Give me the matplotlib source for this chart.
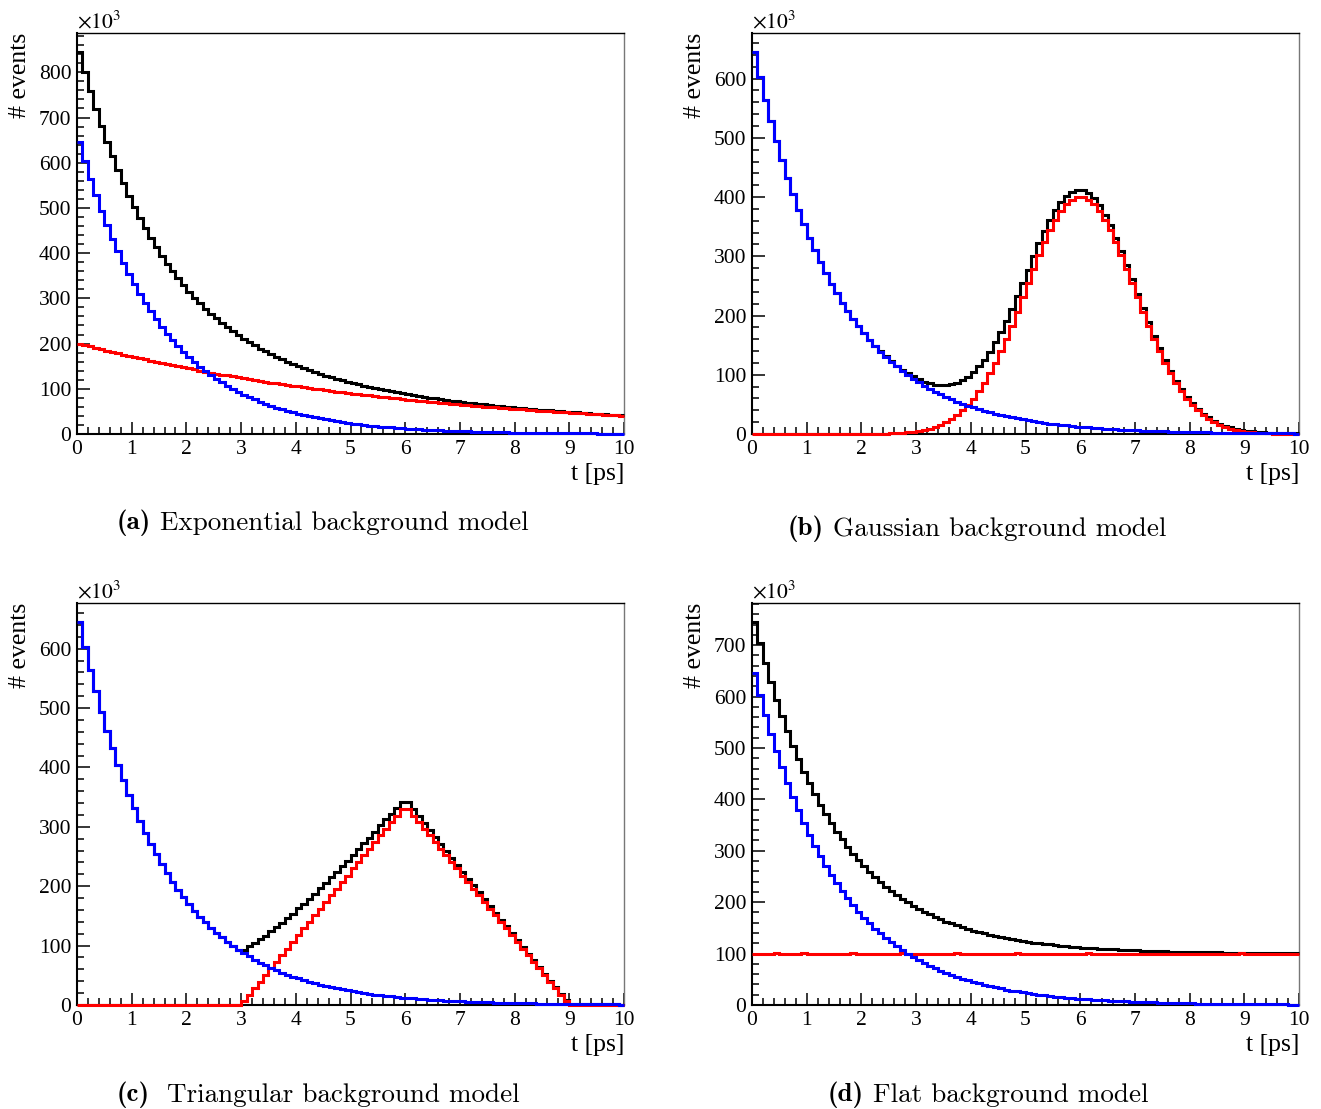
import numpy as np
import matplotlib
matplotlib.use("Agg")
import matplotlib.pyplot as plt
from matplotlib.ticker import MultipleLocator, FixedLocator

plt.rcParams["font.family"] = ["Liberation Serif", "DejaVu Serif"]
plt.rcParams["mathtext.fontset"] = "stix"

# Histogram binning: 100 bins over t in [0, 10] ps
t_min, t_max, n_bins = 0.0, 10.0, 100

# Signal component (blue), identical in all four models, in units of 1e3 events
signal = [
    645.0, 603.4, 564.5, 528.1, 494.0, 462.2, 432.4, 404.5, 378.4, 354.0,
    331.2, 309.8, 289.8, 271.1, 253.6, 237.3, 222.0, 207.6, 194.3, 181.7,
    170.0, 159.1, 148.8, 139.2, 130.2, 121.8, 114.0, 106.6, 99.7, 93.3,
    87.3, 81.7, 76.4, 71.5, 66.9, 62.5, 58.5, 54.7, 51.2, 47.9,
    44.8, 41.9, 39.2, 36.7, 34.3, 32.1, 30.0, 28.1, 26.3, 24.6,
    23.0, 21.5, 20.1, 18.8, 17.6, 16.5, 15.4, 14.4, 13.5, 12.6,
    11.8, 11.0, 10.3, 9.7, 9.0, 8.5, 7.9, 7.4, 6.9, 6.5,
    6.1, 5.7, 5.3, 5.0, 4.6, 4.3, 4.1, 3.8, 3.6, 3.3,
    3.1, 2.9, 2.7, 2.6, 2.4, 2.2, 2.1, 1.9, 1.8, 1.7,
    1.6, 1.5, 1.4, 1.3, 1.2, 1.1, 1.0, 1.0, 0.9, 0.8,
]

# Background components (red), in units of 1e3 events
bkg_exponential = [
    200.0, 196.8, 193.7, 190.6, 187.5, 184.5, 181.6, 178.7, 175.8, 173.0,
    170.3, 167.6, 164.9, 162.2, 159.7, 157.1, 154.6, 152.1, 149.7, 147.3,
    145.0, 142.7, 140.4, 138.1, 135.9, 133.7, 131.6, 129.5, 127.4, 125.4,
    123.4, 121.4, 119.5, 117.6, 115.7, 113.9, 112.0, 110.2, 108.5, 106.8,
    105.1, 103.4, 101.7, 100.1, 98.5, 96.9, 95.4, 93.8, 92.3, 90.9,
    89.4, 88.0, 86.6, 85.2, 83.8, 82.5, 81.2, 79.9, 78.6, 77.4,
    76.1, 74.9, 73.7, 72.5, 71.4, 70.3, 69.1, 68.0, 66.9, 65.9,
    64.8, 63.8, 62.8, 61.8, 60.8, 59.8, 58.8, 57.9, 57.0, 56.1,
    55.2, 54.3, 53.4, 52.6, 51.7, 50.9, 50.1, 49.3, 48.5, 47.7,
    47.0, 46.2, 45.5, 44.8, 44.0, 43.4, 42.7, 42.0, 41.3, 40.7,
]

bkg_gaussian = [
    0.0, 0.0, 0.0, 0.0, 0.0, 0.0, 0.0, 0.0, 0.0, 0.0,
    0.0, 0.0, 0.0, 0.0, 0.0, 0.0, 0.0, 0.0, 0.0, 0.0,
    0.2, 0.2, 0.3, 0.5, 0.7, 1.0, 1.5, 2.0, 2.8, 3.8,
    5.2, 6.9, 9.1, 11.9, 15.5, 19.9, 25.3, 31.8, 39.7, 48.9,
    59.8, 72.3, 86.5, 102.5, 120.3, 139.8, 160.8, 183.1, 206.5, 230.5,
    254.7, 278.7, 301.9, 323.8, 343.9, 361.5, 376.2, 387.7, 395.5, 399.5,
    399.5, 395.5, 387.7, 376.2, 361.5, 343.9, 323.8, 301.9, 278.7, 254.7,
    230.5, 206.5, 183.1, 160.8, 139.8, 120.3, 102.5, 86.5, 72.3, 59.8,
    48.9, 39.7, 31.8, 25.3, 19.9, 15.5, 11.9, 9.1, 6.9, 5.2,
    3.8, 2.8, 2.0, 1.5, 1.0, 0.7, 0.5, 0.3, 0.2, 0.2,
]

bkg_triangular = [
    0, 0, 0, 0, 0, 0, 0, 0, 0, 0,
    0, 0, 0, 0, 0, 0, 0, 0, 0, 0,
    0, 0, 0, 0, 0, 0, 0, 0, 0, 0,
    6, 17, 28, 39, 50, 62, 73, 84, 95, 106,
    118, 129, 140, 151, 162, 174, 185, 196, 207, 218,
    230, 241, 252, 263, 274, 286, 297, 308, 319, 330,
    330, 319, 308, 297, 286, 274, 263, 252, 241, 230,
    218, 207, 196, 185, 174, 162, 151, 140, 129, 118,
    106, 95, 84, 73, 62, 50, 39, 28, 17, 6,
    0, 0, 0, 0, 0, 0, 0, 0, 0, 0,
]

bkg_flat = [
    100.1, 99.9, 100.0, 99.9, 100.2, 100.0, 100.1, 99.8, 100.0, 100.2,
    99.9, 100.1, 100.0, 100.1, 99.9, 100.1, 100.0, 99.9, 100.2, 100.0,
    100.1, 99.8, 100.1, 100.0, 99.9, 100.1, 100.0, 100.2, 99.9, 100.1,
    100.0, 99.9, 100.1, 100.0, 100.1, 99.9, 100.1, 100.2, 99.9, 100.0,
    100.0, 100.1, 99.9, 100.1, 100.0, 99.9, 100.1, 100.0, 100.2, 99.9,
    100.1, 100.0, 100.1, 99.9, 100.1, 100.0, 99.9, 100.1, 100.0, 100.1,
    99.9, 100.2, 100.0, 100.0, 100.1, 99.9, 100.1, 100.0, 100.1, 99.9,
    100.0, 100.1, 99.9, 100.1, 100.0, 100.1, 99.9, 100.0, 100.1, 100.0,
    100.1, 99.9, 100.1, 100.0, 100.0, 100.1, 99.9, 100.1, 100.0, 100.2,
    99.9, 100.0, 100.1, 100.0, 100.1, 99.9, 100.1, 100.0, 100.0, 100.1,
]

backgrounds = [bkg_exponential, bkg_gaussian, bkg_triangular, bkg_flat]
y_max = [887, 677, 677, 782]
y_ticks = [[0, 100, 200, 300, 400, 500, 600, 700, 800],
           [0, 100, 200, 300, 400, 500, 600],
           [0, 100, 200, 300, 400, 500, 600],
           [0, 100, 200, 300, 400, 500, 600, 700]]
x_ticks = [0, 1, 2, 3, 4, 5, 6, 7, 8, 9, 10]
panel_tags = ["(a)", "(b)", "(c)", "(d)"]
panel_titles = ["Exponential background model", "Gaussian background model",
                "Triangular background model", "Flat background model"]
tag_gaps = [9, 9, 17, 9]

W, H = 1321, 1109
fig = plt.figure(figsize=(W / 100, H / 100), dpi=100)

# frame boxes in pixels: (left, top, right, bottom)
boxes = [(77, 33, 624, 434), (752, 33, 1299, 434),
         (77, 603, 624, 1005), (752, 603, 1299, 1005)]
caption_pos = [(323, 523), (977, 529), (318, 1095), (988, 1095)]

edges = np.linspace(t_min, t_max, n_bins + 1)
sig = np.asarray(signal, dtype=float)

captions = []
for k, (l, t, r, b) in enumerate(boxes):
    ax = fig.add_axes([l / W, 1 - b / H, (r - l) / W, (b - t) / H])
    ax.set_axisbelow(True)
    bkg = np.asarray(backgrounds[k], dtype=float)
    total = sig + bkg
    lw = 2.2
    ax.stairs(total, edges, color="black", lw=lw, baseline=None, zorder=3,
              clip_on=False)
    ax.stairs(bkg, edges, color="#ff0000", lw=lw, baseline=None, zorder=4,
              clip_on=False)
    ax.stairs(sig, edges, color="#0000ff", lw=lw, baseline=None, zorder=5,
              clip_on=False)

    ax.set_xlim(t_min, t_max)
    ax.set_ylim(0, y_max[k])
    ax.xaxis.set_major_locator(FixedLocator(x_ticks))
    ax.xaxis.set_minor_locator(MultipleLocator(0.2))
    ax.yaxis.set_major_locator(FixedLocator(y_ticks[k]))
    ax.yaxis.set_minor_locator(MultipleLocator(20))
    ax.tick_params(which="both", direction="in", top=False, right=False,
                   labelsize=15.5, width=1.1, color="black")
    ax.tick_params(which="major", length=9, pad=4)
    ax.tick_params(which="minor", length=5)
    for side in ("left", "bottom"):
        ax.spines[side].set_linewidth(1.5)
        ax.spines[side].set_zorder(2)
    ax.spines["top"].set_linewidth(1.0)
    ax.spines["right"].set_linewidth(1.0)
    ax.spines["right"].set_color("#777777")

    # axis titles and exponent marker
    fig.text((l - 57) / W, 1 - t / H, "# events", rotation=90,
             ha="center", va="top", fontsize=18.5)
    fig.text(r / W, 1 - 474 / H if k < 2 else 1 - 1045 / H, "t [ps]",
             ha="right", va="center", fontsize=18.5)
    fig.text(l / W, 1 - (t - 5) / H, r"$\times10^{3}$",
             ha="left", va="baseline", fontsize=15.5)

    cx, cy = caption_pos[k]
    tag = fig.text(0, 1 - cy / H, panel_tags[k], ha="left", va="center",
                   fontsize=19.5, family="cmb10")
    body = fig.text(0, 1 - cy / H, panel_titles[k], ha="left", va="center",
                    fontsize=19.5, family="cmr10")
    captions.append((cx, tag, body, tag_gaps[k]))

# centre each caption (bold tag + regular text) on its panel
renderer = fig.canvas.get_renderer()
for cx, tag, body, gap in captions:
    wt = tag.get_window_extent(renderer).width
    wb = body.get_window_extent(renderer).width
    x0 = cx - (wt + gap + wb) / 2
    tag.set_x(x0 / W)
    body.set_x((x0 + wt + gap) / W)

fig.savefig("out.png", dpi=100)
